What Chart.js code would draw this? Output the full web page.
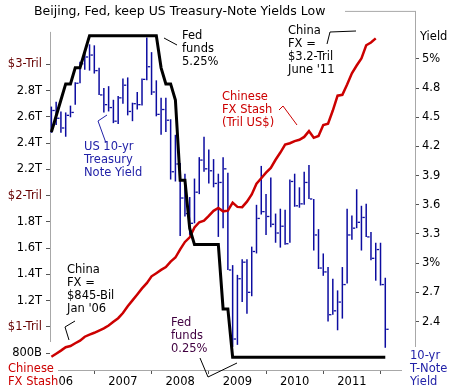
<!DOCTYPE html>
<html>
<head>
<meta charset="utf-8">
<script src="https://cdn.jsdelivr.net/npm/chart.js@4.4.0/dist/chart.umd.min.js"></script>
<style>
  html, body { margin: 0; padding: 0; background: #fff; }
  #wrap { width: 453px; height: 391px; position: relative; }
</style>
</head>
<body>
<div id="wrap"><canvas id="chart"></canvas></div>
<script>
// ============================================
// CHINA FX / FED FUNDS / 10-YR YIELD
// ============================================

// months, Oct 2005 .. Aug 2011 (x = month index)
const months = [
    'Oct05','Nov05','Dec05',
    'Jan06','Feb06','Mar06','Apr06','May06','Jun06','Jul06','Aug06','Sep06','Oct06','Nov06','Dec06',
    'Jan07','Feb07','Mar07','Apr07','May07','Jun07','Jul07','Aug07','Sep07','Oct07','Nov07','Dec07',
    'Jan08','Feb08','Mar08','Apr08','May08','Jun08','Jul08','Aug08','Sep08','Oct08','Nov08','Dec08',
    'Jan09','Feb09','Mar09','Apr09','May09','Jun09','Jul09','Aug09','Sep09','Oct09','Nov09','Dec09',
    'Jan10','Feb10','Mar10','Apr10','May10','Jun10','Jul10','Aug10','Sep10','Oct10','Nov10','Dec10',
    'Jan11','Feb11','Mar11','Apr11','May11','Jun11','Jul11','Aug11'
];

// US 10-yr T-note yield, monthly high / low / close (%)
const yieldHigh = [
    4.61, 4.66, 4.56,
    4.55, 4.62, 4.86, 5.07, 5.19, 5.25, 5.24, 5.01, 4.80, 4.82, 4.68, 4.72,
    4.90, 4.91, 4.65, 4.76, 4.90, 5.32, 5.17, 4.88, 4.70, 4.70, 4.48, 4.32,
    4.03, 3.92, 3.68, 3.87, 4.09, 4.30, 4.17, 4.07, 3.92, 4.09, 3.93, 2.98,
    2.88, 3.04, 3.04, 3.17, 3.60, 4.00, 3.71, 3.88, 3.51, 3.56, 3.55, 3.86,
    3.92, 3.78, 3.94, 4.01, 3.66, 3.35, 3.10, 2.96, 2.84, 2.72, 2.96, 3.56,
    3.49, 3.76, 3.59, 3.61, 3.32, 3.21, 3.21, 2.85
];
const yieldLow = [
    4.34, 4.42, 4.34,
    4.30, 4.50, 4.63, 4.85, 4.99, 4.98, 4.95, 4.73, 4.55, 4.56, 4.44, 4.43,
    4.64, 4.52, 4.46, 4.58, 4.62, 4.88, 4.73, 4.51, 4.32, 4.35, 3.86, 3.84,
    3.28, 3.48, 3.29, 3.41, 3.71, 3.94, 3.82, 3.78, 3.27, 3.36, 2.93, 2.14,
    2.16, 2.60, 2.48, 2.66, 3.10, 3.50, 3.29, 3.37, 3.21, 3.16, 3.19, 3.21,
    3.58, 3.57, 3.60, 3.66, 3.13, 2.94, 2.87, 2.40, 2.47, 2.31, 2.43, 2.79,
    3.24, 3.36, 3.13, 3.27, 3.03, 2.82, 2.77, 2.13
];
const yieldClose = [
    4.57, 4.49, 4.39,
    4.52, 4.55, 4.85, 5.05, 5.12, 5.14, 4.98, 4.73, 4.63, 4.60, 4.46, 4.70,
    4.83, 4.56, 4.64, 4.63, 4.89, 5.02, 4.76, 4.53, 4.58, 4.47, 3.94, 4.02,
    3.67, 3.51, 3.41, 3.73, 4.06, 3.97, 3.95, 3.82, 3.83, 3.97, 2.93, 2.22,
    2.84, 3.01, 2.70, 3.12, 3.46, 3.53, 3.48, 3.40, 3.31, 3.38, 3.20, 3.84,
    3.59, 3.61, 3.83, 3.66, 3.29, 2.95, 2.91, 2.47, 2.51, 2.60, 2.78, 3.29,
    3.36, 3.42, 3.47, 3.27, 3.05, 3.14, 2.78, 2.32
];

// Chinese FX stash, trillion US$ (Oct05 .. Jun11)
const fxStash = [
    0.772, 0.795, 0.819,
    0.845, 0.854, 0.875, 0.895, 0.925, 0.941, 0.955, 0.972, 0.988, 1.010, 1.039, 1.066,
    1.105, 1.157, 1.202, 1.247, 1.293, 1.333, 1.385, 1.409, 1.434, 1.455, 1.497, 1.528,
    1.590, 1.647, 1.682, 1.757, 1.797, 1.809, 1.845, 1.884, 1.906, 1.880, 1.885, 1.946,
    1.914, 1.912, 1.954, 2.009, 2.090, 2.132, 2.175, 2.211, 2.273, 2.328, 2.388, 2.399,
    2.415, 2.425, 2.447, 2.491, 2.440, 2.454, 2.538, 2.548, 2.648, 2.761, 2.768, 2.847,
    2.932, 2.991, 3.045, 3.145, 3.166, 3.198
];

// Fed funds target, end of month (%)
const fedFunds = [
    3.75, 4.00, 4.25,
    4.50, 4.50, 4.75, 4.75, 5.00, 5.25, 5.25, 5.25, 5.25, 5.25, 5.25, 5.25,
    5.25, 5.25, 5.25, 5.25, 5.25, 5.25, 5.25, 5.25, 4.75, 4.50, 4.50, 4.25,
    3.00, 3.00, 2.25, 2.00, 2.00, 2.00, 2.00, 2.00, 2.00, 1.00, 1.00, 0.25,
    0.25, 0.25, 0.25, 0.25, 0.25, 0.25, 0.25, 0.25, 0.25, 0.25, 0.25, 0.25,
    0.25, 0.25, 0.25, 0.25, 0.25, 0.25, 0.25, 0.25, 0.25, 0.25, 0.25, 0.25,
    0.25, 0.25, 0.25, 0.25, 0.25, 0.25, 0.25, 0.25
];

// axis ticks
const yearTicks = [3, 15, 27, 39, 51, 63];
const yearLabels = ['06', '2007', '2008', '2009', '2010', '2011'];
const fxTickValues = [3.0, 2.8, 2.6, 2.4, 2.2, 2.0, 1.8, 1.6, 1.4, 1.2, 1.0, 0.8];
const fxTickLabels = ['$3-Tril', '2.8T', '2.6T', '2.4T', '2.2T', '$2-Tril', '1.8T', '1.6T', '1.4T', '1.2T', '$1-Tril', '800B'];
const yieldTickValues = [5.1, 4.8, 4.5, 4.2, 3.9, 3.6, 3.3, 3.0, 2.7, 2.4];
const yieldTickLabels = ['5%', '4.8', '4.5', '4.2', '3.9', '3.6', '3.3', '3%', '2.7', '2.4'];

const FONT = '"DejaVu Sans", Verdana, sans-serif';
const BLUE = '#0c0ca0';
const RED = '#cc0000';

// text notes drawn on top of the chart
const notes = [
    { lines: ['Beijing, Fed, keep US Treasury-Note Yields Low'], x: 34, y: 12, color: '#000', size: 12.5 },
    { lines: ['Fed', 'funds', '5.25%'], x: 182, y: 36, color: '#000' },
    { lines: ['US 10-yr', 'Treasury', 'Note Yield'], x: 84, y: 147, color: '#2222a8' },
    { lines: ['Chinese', 'FX Stash', '(Tril US$)'], x: 222, y: 97, color: RED },
    { lines: ['China', 'FX =', '$3.2-Tril', "June '11"], x: 288, y: 31, color: '#000' },
    { lines: ['China', 'FX =', '$845-Bil', "Jan '06"], x: 67, y: 270, color: '#000' },
    { lines: ['Fed', 'funds', '0.25%'], x: 171, y: 323, color: '#400040' },
    { lines: ['Yield'], x: 420, y: 37, color: '#000' },
    { lines: ['10-yr', 'T-Note', 'Yield'], x: 410, y: 356, color: '#2222a8' },
    { lines: ['Chinese', 'FX Stash'], x: 8, y: 369, color: RED }
];
const pointers = [
    { pts: [[164, 38], [177, 45]], color: '#000' },
    { pts: [[107, 115], [98, 121], [106, 143]], color: '#2222a8' },
    { pts: [[279, 110], [283, 106], [297, 125]], color: RED },
    { pts: [[327, 44], [330, 32], [356, 31]], color: '#000' },
    { pts: [[75, 321], [65, 327], [69, 340]], color: '#000' },
    { pts: [[200, 358], [208, 377], [237, 363]], color: '#000' }
];

function fixedTicks(values) {
    return scale => { scale.ticks = values.map(v => ({ value: v })); };
}

const framePlugin = {
    id: 'frame',
    beforeDatasetsDraw(chart) {
        const { ctx, chartArea: a } = chart;
        ctx.save();
        ctx.strokeStyle = '#a8a8a8';
        ctx.lineWidth = 1;
        ctx.beginPath();
        ctx.moveTo(a.left + 0.5, a.top + 21); ctx.lineTo(a.left + 0.5, a.bottom - 28);
        ctx.moveTo(a.left + 8, a.bottom + 0.5); ctx.lineTo(a.right - 13, a.bottom + 0.5);
        ctx.moveTo(a.right + 0.5, a.top); ctx.lineTo(a.right + 0.5, a.bottom - 23);
        ctx.moveTo(a.right - 70, a.top + 0.5); ctx.lineTo(a.right + 0.5, a.top + 0.5);
        ctx.stroke();
        ctx.restore();
    }
};

const notesPlugin = {
    id: 'notes',
    afterDraw(chart) {
        const ctx = chart.ctx;
        ctx.save();
        pointers.forEach(p => {
            ctx.strokeStyle = p.color;
            ctx.lineWidth = 1;
            ctx.beginPath();
            p.pts.forEach(([x, y], i) => i ? ctx.lineTo(x, y) : ctx.moveTo(x, y));
            ctx.stroke();
        });
        ctx.textAlign = 'left';
        ctx.textBaseline = 'middle';
        notes.forEach(n => {
            ctx.fillStyle = n.color;
            ctx.font = (n.size || 11.5) + 'px ' + FONT;
            n.lines.forEach((t, i) => ctx.fillText(t, n.x, n.y + i * 13));
        });
        ctx.restore();
    }
};

new Chart(document.getElementById('chart'), {
    type: 'line',
    data: {
        datasets: [
            {
                type: 'line',
                label: 'Fed funds',
                data: fedFunds.map((v, i) => ({ x: i, y: v })),
                yAxisID: 'yFed',
                borderColor: '#000',
                borderWidth: 3,
                pointRadius: 0,
                tension: 0,
                order: 1
            },
            {
                type: 'line',
                label: 'Chinese FX Stash',
                data: fxStash.map((v, i) => ({ x: i, y: v })),
                yAxisID: 'yFx',
                borderColor: RED,
                borderWidth: 2.5,
                pointRadius: 0,
                tension: 0,
                order: 2
            },
            {
                type: 'bar',
                label: '10-yr range',
                data: yieldLow.map((v, i) => ({ x: i, y: [v, yieldHigh[i]] })),
                yAxisID: 'yYield',
                backgroundColor: BLUE,
                borderWidth: 0,
                barThickness: 1.5,
                inflateAmount: 0,
                grouped: false,
                order: 4
            },
            {
                type: 'scatter',
                label: '10-yr close',
                data: yieldClose.map((v, i) => ({ x: i + 0.45, y: v })),
                yAxisID: 'yYield',
                pointStyle: 'line',
                pointRadius: 1.2,
                borderColor: BLUE,
                borderWidth: 1.3,
                showLine: false,
                order: 3
            }
        ]
    },
    options: {
        responsive: true,
        maintainAspectRatio: false,
        animation: false,
        layout: { padding: { top: 7, left: 0, right: 0, bottom: 0 } },
        plugins: {
            legend: { display: false },
            tooltip: { enabled: false },
            title: { display: false }
        },
        scales: {
            x: {
                type: 'linear',
                min: -0.29,
                max: 76.23,
                offset: false,
                afterBuildTicks: fixedTicks(yearTicks),
                afterFit: s => { s.height = 21; },
                grid: { drawOnChartArea: false, tickLength: 4, color: '#555' },
                border: { display: false },
                ticks: {
                    autoSkip: false,
                    maxRotation: 0,
                    padding: 1,
                    color: '#000',
                    font: { family: FONT, size: 11.5 },
                    callback: v => yearLabels[yearTicks.indexOf(v)]
                }
            },
            yFx: {
                type: 'linear',
                position: 'left',
                min: 0.6714,
                max: 3.407,
                afterBuildTicks: fixedTicks(fxTickValues),
                afterFit: s => { s.width = 50; },
                grid: { drawOnChartArea: false, tickLength: 4, color: '#555' },
                border: { display: false },
                ticks: {
                    autoSkip: false,
                    padding: 4,
                    font: { family: FONT, size: 11.5 },
                    color: c => (fxTickLabels[fxTickValues.indexOf(c.tick.value)] || '').startsWith('$') ? '#660000' : '#000',
                    callback: v => fxTickLabels[fxTickValues.indexOf(v)]
                }
            },
            yYield: {
                type: 'linear',
                position: 'right',
                min: 1.9015,
                max: 5.594,
                afterBuildTicks: fixedTicks(yieldTickValues),
                afterFit: s => { s.width = 38; },
                grid: { drawOnChartArea: false, tickLength: 4, color: '#555' },
                border: { display: false },
                ticks: {
                    autoSkip: false,
                    padding: 3,
                    color: '#000',
                    font: { family: FONT, size: 11.5 },
                    callback: v => yieldTickLabels[yieldTickValues.indexOf(v)]
                }
            },
            yFed: {
                type: 'linear',
                display: false,
                min: 0.05,
                max: 5.635
            }
        }
    },
    plugins: [framePlugin, notesPlugin]
});
</script>
</body>
</html>
